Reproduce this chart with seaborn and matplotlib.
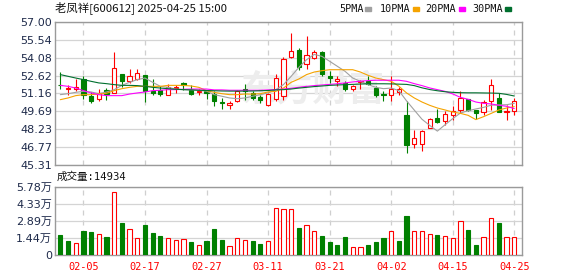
import matplotlib
matplotlib.use("Agg")
import matplotlib.pyplot as plt
import seaborn as sns
import pandas as pd
import numpy as np
from matplotlib.patches import Rectangle

# ---------------- data ----------------
dates = ["01-23", "01-24", "01-27", "02-05", "02-06", "02-07", "02-10", "02-11", "02-12", "02-13",
         "02-14", "02-17", "02-18", "02-19", "02-20", "02-21", "02-24", "02-25", "02-26", "02-27",
         "02-28", "03-03", "03-04", "03-05", "03-06", "03-07", "03-10", "03-11", "03-12", "03-13",
         "03-14", "03-17", "03-18", "03-19", "03-20", "03-21", "03-24", "03-25", "03-26", "03-27",
         "03-28", "03-31", "04-01", "04-02", "04-03", "04-07", "04-08", "04-09", "04-10", "04-11",
         "04-14", "04-15", "04-16", "04-17", "04-18", "04-21", "04-22", "04-23", "04-24", "04-25"]

opens = [51.88, 51.52, 51.52, 52.32, 50.98, 50.71, 51.47, 51.20, 52.78, 52.15,
         52.37, 52.66, 51.33, 51.47, 51.06, 51.60, 51.98, 51.47, 51.30, 51.39,
         51.15, 50.47, 50.19, 50.52, 51.52, 51.17, 50.87, 50.25, 50.74, 50.98,
         54.12, 54.69, 53.57, 54.07, 54.57, 52.62, 52.16, 52.02, 51.52, 52.12,
         52.21, 51.61, 51.10, 51.06, 51.25, 49.38, 47.06, 47.06, 48.34, 49.16,
         48.94, 49.43, 49.78, 50.71, 49.84, 49.62, 50.58, 50.79, 49.62, 49.70]
highs = [52.95, 51.88, 52.30, 52.55, 51.25, 51.55, 51.61, 54.56, 52.78, 53.16,
         53.16, 52.66, 52.34, 51.74, 51.93, 51.88, 52.07, 51.88, 51.52, 51.47,
         51.39, 50.79, 50.52, 51.47, 51.93, 51.34, 51.06, 51.20, 52.78, 54.11,
         56.10, 54.88, 55.85, 54.75, 54.60, 52.97, 52.56, 52.15, 51.88, 52.29,
         52.56, 51.74, 51.39, 52.56, 51.66, 50.58, 48.20, 48.20, 49.16, 49.89,
         49.70, 50.11, 51.39, 50.71, 49.84, 50.66, 52.37, 51.20, 50.25, 50.79]
lows = [51.50, 51.06, 51.32, 50.72, 50.38, 50.58, 50.66, 51.17, 51.70, 52.02,
        52.24, 50.50, 51.05, 50.93, 51.06, 51.20, 51.47, 51.06, 51.06, 50.70,
        50.11, 49.92, 49.92, 50.47, 50.66, 50.66, 50.38, 50.11, 50.57, 50.66,
        54.06, 53.11, 53.19, 53.94, 52.55, 52.02, 51.75, 51.39, 51.39, 51.55,
        51.88, 50.87, 50.57, 50.52, 51.06, 46.30, 46.71, 46.49, 48.34, 48.75,
        48.56, 49.02, 49.57, 49.70, 49.10, 49.38, 49.84, 49.62, 49.02, 49.43]
closes = [51.83, 51.60, 51.66, 51.05, 50.57, 51.20, 51.15, 53.22, 52.15, 52.56,
          52.83, 51.40, 51.22, 51.12, 51.66, 51.68, 51.82, 51.15, 51.36, 51.17,
          50.52, 50.36, 50.41, 51.35, 51.37, 50.82, 50.66, 51.12, 52.42, 54.00,
          54.61, 53.30, 54.28, 54.53, 52.75, 52.40, 52.36, 51.52, 51.74, 52.16,
          51.93, 51.06, 51.04, 51.54, 51.50, 46.98, 47.52, 48.07, 49.08, 48.83,
          49.49, 49.70, 50.79, 49.84, 49.57, 50.44, 51.83, 49.62, 49.70, 50.52]
volumes_wan = [1.69, 1.18, 0.99, 2.03, 1.94, 1.75, 1.52, 5.38, 2.70, 2.25,
               1.41, 2.54, 1.86, 1.61, 1.41, 1.24, 1.32, 1.10, 0.82, 1.18,
               2.20, 1.27, 0.73, 1.41, 1.24, 1.18, 0.93, 1.15, 4.03, 3.89,
               3.89, 2.28, 2.51, 2.00, 1.61, 1.10, 0.85, 1.52, 0.65, 0.65,
               0.85, 1.10, 1.44, 2.08, 1.18, 3.30, 2.08, 2.00, 1.75, 1.69,
               1.58, 1.44, 2.93, 2.11, 0.85, 1.49, 3.18, 2.70, 1.49, 1.4934]

ma5 = [51.06, 51.14, 51.25, 51.33, 51.28, 51.14, 51.28, 51.47, 51.82, 52.07,
       52.29, 52.42, 52.07, 51.74, 51.66, 51.52, 51.47, 51.45, 51.40, 51.35,
       51.06, 50.93, 50.79, 50.73, 50.79, 50.93, 51.06, 51.20, 51.47, 51.88,
       52.56, 53.29, 53.92, 54.35, 54.19, 53.79, 53.38, 52.97, 52.42, 52.15,
       51.88, 51.66, 51.55, 51.60, 51.39, 50.55, 49.80, 49.05, 48.55, 48.08,
       48.60, 49.10, 49.56, 49.75, 49.89, 50.02, 50.20, 50.22, 50.24, 50.35]
ma10 = [50.65, 50.79, 50.98, 51.06, 51.06, 51.11, 51.17, 51.39, 51.55, 51.66,
        51.74, 51.74, 51.74, 51.74, 51.82, 51.82, 51.82, 51.77, 51.66, 51.39,
        51.25, 51.14, 51.06, 51.06, 51.11, 51.11, 51.14, 51.28, 51.33, 51.60,
        52.07, 52.34, 52.70, 52.91, 53.02, 53.10, 53.10, 53.10, 53.10, 52.91,
        52.64, 52.42, 52.29, 52.15, 51.75, 51.20, 50.79, 50.46, 50.19, 49.97,
        49.81, 49.64, 49.53, 49.37, 49.02, 49.26, 49.53, 49.81, 49.97, 50.08]
ma20 = [51.82, 51.74, 51.60, 51.39, 51.20, 51.06, 50.98, 50.98, 50.98, 51.11,
        51.20, 51.28, 51.39, 51.42, 51.47, 51.47, 51.50, 51.52, 51.52, 51.52,
        51.45, 51.45, 51.42, 51.42, 51.42, 51.42, 51.42, 51.45, 51.47, 51.52,
        51.58, 51.66, 51.74, 51.80, 51.85, 51.90, 51.95, 52.02, 52.10, 52.16,
        52.21, 52.24, 52.24, 52.24, 52.24, 52.15, 51.96, 51.80, 51.61, 51.47,
        51.33, 51.12, 50.84, 50.68, 50.46, 50.35, 50.30, 50.19, 50.11, 49.92]
ma30 = [52.70, 52.56, 52.42, 52.29, 52.15, 52.02, 51.96, 51.88, 51.82, 51.82,
        51.80, 51.74, 51.66, 51.60, 51.55, 51.50, 51.47, 51.45, 51.42, 51.40,
        51.38, 51.36, 51.35, 51.35, 51.35, 51.36, 51.38, 51.40, 51.45, 51.47,
        51.52, 51.60, 51.66, 51.72, 51.77, 51.82, 51.85, 51.88, 51.90, 51.93,
        51.95, 51.95, 51.95, 51.94, 51.92, 51.90, 51.80, 51.62, 51.48, 51.38,
        51.30, 51.25, 51.22, 51.21, 51.21, 51.20, 51.19, 51.17, 51.08, 50.95]

price_ticks = [45.31, 46.77, 48.23, 49.69, 51.16, 52.62, 54.08, 55.54, 57.00]
vol_ticks = [0, 1.44, 2.89, 4.33, 5.78]
vol_tick_labels = ["0", "1.44万", "2.89万", "4.33万", "5.78万"]
xtick_labels = ["02-05", "02-17", "02-27", "03-11", "03-21", "04-02", "04-15", "04-25"]
ma_names = ["5PMA", "10PMA", "20PMA", "30PMA"]
ma_colors = ["#a0a0a0", "#f5a300", "#ff00ff", "#006f2e"]
title = "老凤祥[600612] 2025-04-25 15:00"

# ---------------- style ----------------
sns.set_style("white")
plt.rcParams['font.family'] = ['DejaVu Sans', 'Noto Sans CJK SC']

W, H = 578, 276
fig = plt.figure(figsize=(W / 100, H / 100), dpi=100)


def fx(p):
    return p / W


def fy(p):
    return 1 - p / H


ax = fig.add_axes([fx(55), fy(165), fx(522) - fx(55), fy(22) - fy(165)])
axv = fig.add_axes([fx(55), fy(255), fx(522) - fx(55), fy(187) - fy(255)])

RED, GREEN = "#ff0000", "#008000"
LW = 0.8
n = len(dates)
x = np.arange(n)
o = np.array(opens)
h = np.array(highs)
l = np.array(lows)
c = np.array(closes)
up = c >= o
cols = np.where(up, RED, GREEN)

# watermark
ax.text(32.8, 51.45, "东方财富", fontsize=26, fontweight="bold", color="#ededed",
        ha="center", va="center", family=["Noto Sans CJK SC"], zorder=1, style="italic")

# candles
ax.vlines(x, l, h, colors=cols, lw=LW, zorder=2)
body_lo = np.minimum(o, c)
body_h = np.maximum(np.abs(c - o), 0.015)
bw = 0.55
ax.bar(x[up], body_h[up], bottom=body_lo[up], width=bw, facecolor="white",
       edgecolor=RED, lw=LW, zorder=3)
ax.bar(x[~up], body_h[~up], bottom=body_lo[~up], width=bw, facecolor=GREEN,
       edgecolor=GREEN, lw=LW, zorder=3)

# moving averages via seaborn
ma_df = pd.DataFrame({"x": x, "5PMA": ma5, "10PMA": ma10, "20PMA": ma20, "30PMA": ma30})
long = ma_df.melt(id_vars="x", var_name="ma", value_name="v")
sns.lineplot(data=long, x="x", y="v", hue="ma", hue_order=ma_names,
             palette=dict(zip(ma_names, ma_colors)), ax=ax, legend=False,
             lw=LW, zorder=4, estimator=None, sort=False)

# volume bars: colour by close vs previous close
prev = np.concatenate([[o[0]], c[:-1]])
vup = c >= prev
vol = np.array(volumes_wan)
axv.bar(x[vup], vol[vup], width=bw, facecolor="white", edgecolor=RED, lw=LW, zorder=3)
axv.bar(x[~vup], vol[~vup], width=bw, facecolor=GREEN, edgecolor=GREEN, lw=LW, zorder=3)

tick_idx = [dates.index(s) for s in xtick_labels]
label_color = "#1e2a4a"
for a in (ax, axv):
    a.set_xlim(-0.69, 60.0)
    a.set_xticks(tick_idx)
    a.set_axisbelow(True)
    a.grid(False)
    a.yaxis.grid(True, color="#d4d4d4", lw=0.9)
    a.xaxis.grid(True, color="#cfcfcf", lw=0.9, ls=(0, (4, 4)))
    for s in a.spines.values():
        s.set_color("#9a9a9a")
        s.set_linewidth(1)
    a.tick_params(length=0, pad=2, labelsize=8, labelcolor=label_color)
    a.set_xlabel("")
    a.set_ylabel("")

ax.set_ylim(45.31, 57.00)
ax.set_yticks(price_ticks)
ax.set_yticklabels([f"{t:.2f}" for t in price_ticks])
ax.set_xticklabels([])

axv.set_ylim(0, 5.78)
axv.set_yticks(vol_ticks)
axv.set_yticklabels(vol_tick_labels)
axv.set_xticklabels(xtick_labels, color=RED, family=["DejaVu Sans Mono"], fontsize=7.4)
axv.tick_params(axis="x", pad=5)

mono = ["DejaVu Sans Mono", "Noto Sans CJK SC"]
fig.text(fx(55), fy(8), title, fontsize=8.2, family=["Noto Sans CJK SC"], va="center",
         ha="left", color="#111111")
fig.text(fx(57), fy(177), f"成交量:{int(round(volumes_wan[-1] * 10000))}", fontsize=7.6,
         family=mono, va="center", ha="left", color="#111111")

legend_text_x = [339, 380, 425, 472]
legend_sq_x = [368, 416, 462, 508]
for name, col, tx, sx in zip(ma_names, ma_colors, legend_text_x, legend_sq_x):
    fig.text(fx(tx), fy(9), name, fontsize=7.3, family=mono, va="center", ha="left",
             color="#111111")
    fig.patches.append(Rectangle((fx(sx - 3), fy(11)), 6 / W, 4 / H,
                                 transform=fig.transFigure, color=col))

fig.savefig("out.png", dpi=100)
